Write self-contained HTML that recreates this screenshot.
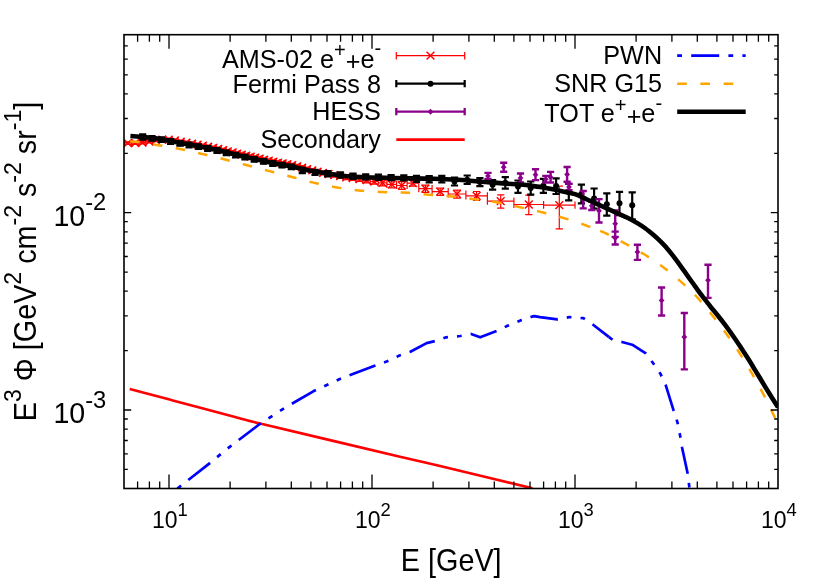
<!DOCTYPE html><html><head><meta charset="utf-8"><style>html,body{margin:0;padding:0;background:#fff}svg{display:block;will-change:transform}text{font-family:"Liberation Sans",sans-serif;fill:#000}</style></head><body>
<svg width="830" height="581" viewBox="0 0 830 581">
<clipPath id="c"><rect x="124.0" y="34.7" width="654.0" height="453.8"/></clipPath>
<g clip-path="url(#c)" fill="none" stroke-linejoin="round">
<g stroke="#ff0000" stroke-width="1.2"><path d="M116.2,143.3H124.0M116.2,139.7v7.2M124.0,139.7v7.2M120.1,142.0V144.6M116.5,142.0h7.2M116.5,144.6h7.2M124.0,143.1H131.6M124.0,139.5v7.2M131.6,139.5v7.2M127.8,141.8V144.5M124.2,141.8h7.2M124.2,144.5h7.2M131.6,143.0H138.8M131.6,139.4v7.2M138.8,139.4v7.2M135.2,141.6V144.3M131.6,141.6h7.2M131.6,144.3h7.2M138.8,142.6H145.9M138.8,139.0v7.2M145.9,139.0v7.2M142.4,141.2V144.0M138.8,141.2h7.2M138.8,144.0h7.2M145.9,141.5H152.6M145.9,137.9v7.2M152.6,137.9v7.2M149.2,140.1V142.9M145.6,140.1h7.2M145.6,142.9h7.2M152.6,140.2H159.3M152.6,136.6v7.2M159.3,136.6v7.2M155.9,138.8V141.6M152.3,138.8h7.2M152.3,141.6h7.2M159.3,139.6H165.6M159.3,136.0v7.2M165.6,136.0v7.2M162.4,138.1V141.1M158.8,138.1h7.2M158.8,141.1h7.2M165.6,139.7H171.8M165.6,136.1v7.2M171.8,136.1v7.2M168.7,138.2V141.2M165.1,138.2h7.2M165.1,141.2h7.2M171.8,140.5H177.8M171.8,136.9v7.2M177.8,136.9v7.2M174.8,138.9V142.0M171.2,138.9h7.2M171.2,142.0h7.2M177.8,141.6H183.6M177.8,138.0v7.2M183.6,138.0v7.2M180.7,140.1V143.1M177.1,140.1h7.2M177.1,143.1h7.2M183.6,142.6H189.3M183.6,139.0v7.2M189.3,139.0v7.2M186.5,141.1V144.2M182.9,141.1h7.2M182.9,144.2h7.2M189.3,143.6H194.9M189.3,140.0v7.2M194.9,140.0v7.2M192.1,142.0V145.2M188.5,142.0h7.2M188.5,145.2h7.2M194.9,144.6H200.3M194.9,141.0v7.2M200.3,141.0v7.2M197.6,143.0V146.2M194.0,143.0h7.2M194.0,146.2h7.2M200.3,145.7H205.6M200.3,142.1v7.2M205.6,142.1v7.2M202.9,144.1V147.3M199.3,144.1h7.2M199.3,147.3h7.2M205.6,146.7H210.7M205.6,143.1v7.2M210.7,143.1v7.2M208.2,145.1V148.4M204.6,145.1h7.2M204.6,148.4h7.2M210.7,147.8H215.8M210.7,144.2v7.2M215.8,144.2v7.2M213.3,146.1V149.4M209.7,146.1h7.2M209.7,149.4h7.2M215.8,148.9H220.8M215.8,145.3v7.2M220.8,145.3v7.2M218.3,147.2V150.5M214.7,147.2h7.2M214.7,150.5h7.2M220.8,150.1H225.6M220.8,146.5v7.2M225.6,146.5v7.2M223.2,148.4V151.8M219.6,148.4h7.2M219.6,151.8h7.2M225.6,151.3H230.3M225.6,147.7v7.2M230.3,147.7v7.2M227.9,149.6V153.0M224.3,149.6h7.2M224.3,153.0h7.2M230.3,152.4H235.0M230.3,148.8v7.2M235.0,148.8v7.2M232.7,150.7V154.2M229.1,150.7h7.2M229.1,154.2h7.2M235.0,153.6H239.5M235.0,150.0v7.2M239.5,150.0v7.2M237.3,151.8V155.3M233.7,151.8h7.2M233.7,155.3h7.2M239.5,154.6H244.1M239.5,151.0v7.2M244.1,151.0v7.2M241.8,152.8V156.4M238.2,152.8h7.2M238.2,156.4h7.2M244.1,155.6H248.5M244.1,152.0v7.2M248.5,152.0v7.2M246.3,153.8V157.4M242.7,153.8h7.2M242.7,157.4h7.2M248.5,156.6H252.9M248.5,153.0v7.2M252.9,153.0v7.2M250.7,154.8V158.4M247.1,154.8h7.2M247.1,158.4h7.2M252.9,157.7H257.4M252.9,154.1v7.2M257.4,154.1v7.2M255.2,155.8V159.5M251.6,155.8h7.2M251.6,159.5h7.2M257.4,158.7H261.9M257.4,155.1v7.2M261.9,155.1v7.2M259.7,156.8V160.5M256.1,156.8h7.2M256.1,160.5h7.2M261.9,159.7H266.5M261.9,156.1v7.2M266.5,156.1v7.2M264.2,157.8V161.5M260.6,157.8h7.2M260.6,161.5h7.2M266.5,160.7H271.1M266.5,157.1v7.2M271.1,157.1v7.2M268.8,158.8V162.5M265.2,158.8h7.2M265.2,162.5h7.2M271.1,161.7H275.7M271.1,158.1v7.2M275.7,158.1v7.2M273.4,159.9V163.6M269.8,159.9h7.2M269.8,163.6h7.2M275.7,162.6H280.4M275.7,159.0v7.2M280.4,159.0v7.2M278.0,160.7V164.4M274.4,160.7h7.2M274.4,164.4h7.2M280.4,163.4H285.1M280.4,159.8v7.2M285.1,159.8v7.2M282.7,161.5V165.3M279.1,161.5h7.2M279.1,165.3h7.2M285.1,164.2H289.9M285.1,160.6v7.2M289.9,160.6v7.2M287.5,162.3V166.1M283.9,162.3h7.2M283.9,166.1h7.2M289.9,165.2H294.7M289.9,161.6v7.2M294.7,161.6v7.2M292.3,163.3V167.1M288.7,163.3h7.2M288.7,167.1h7.2M294.7,166.3H299.7M294.7,162.7v7.2M299.7,162.7v7.2M297.2,164.4V168.3M293.6,164.4h7.2M293.6,168.3h7.2M299.7,167.6H304.7M299.7,164.0v7.2M304.7,164.0v7.2M302.2,165.7V169.6M298.6,165.7h7.2M298.6,169.6h7.2M304.7,169.2H309.7M304.7,165.6v7.2M309.7,165.6v7.2M307.2,167.2V171.1M303.6,167.2h7.2M303.6,171.1h7.2M309.7,170.4H314.9M309.7,166.8v7.2M314.9,166.8v7.2M312.3,168.5V172.4M308.7,168.5h7.2M308.7,172.4h7.2M314.9,171.6H320.3M314.9,168.0v7.2M320.3,168.0v7.2M317.6,169.6V173.5M314.0,169.6h7.2M314.0,173.5h7.2M320.3,172.8H325.7M320.3,169.2v7.2M325.7,169.2v7.2M323.0,170.8V174.8M319.4,170.8h7.2M319.4,174.8h7.2M325.7,174.0H331.3M325.7,170.4v7.2M331.3,170.4v7.2M328.5,172.0V176.0M324.9,172.0h7.2M324.9,176.0h7.2M331.3,175.1H337.1M331.3,171.5v7.2M337.1,171.5v7.2M334.2,173.0V177.2M330.6,173.0h7.2M330.6,177.2h7.2M337.1,176.2H343.1M337.1,172.6v7.2M343.1,172.6v7.2M340.1,174.1V178.3M336.5,174.1h7.2M336.5,178.3h7.2M343.1,177.4H349.4M343.1,173.8v7.2M349.4,173.8v7.2M346.3,175.2V179.6M342.7,175.2h7.2M342.7,179.6h7.2M349.4,178.2H356.0M349.4,174.6v7.2M356.0,174.6v7.2M352.7,175.9V180.5M349.1,175.9h7.2M349.1,180.5h7.2M356.0,179.1H362.9M356.0,175.5v7.2M362.9,175.5v7.2M359.5,176.7V181.5M355.9,176.7h7.2M355.9,181.5h7.2M362.9,180.2H370.3M362.9,176.6v7.2M370.3,176.6v7.2M366.6,177.6V182.8M363.0,177.6h7.2M363.0,182.8h7.2M370.3,181.5H378.2M370.3,177.9v7.2M378.2,177.9v7.2M374.3,178.7V184.2M370.7,178.7h7.2M370.7,184.2h7.2M378.2,182.8H386.9M378.2,179.2v7.2M386.9,179.2v7.2M382.6,179.8V185.8M379.0,179.8h7.2M379.0,185.8h7.2M386.9,184.3H396.6M386.9,180.7v7.2M396.6,180.7v7.2M391.8,180.9V187.8M388.2,180.9h7.2M388.2,187.8h7.2M396.6,185.5H407.1M396.6,181.9v7.2M407.1,181.9v7.2M401.8,181.6V189.4M398.2,181.6h7.2M398.2,189.4h7.2M407.1,183.1H418.8M407.1,179.5v7.2M418.8,179.5v7.2M412.9,180.1V186.2M409.3,180.1h7.2M409.3,186.2h7.2M418.8,188.6H432.1M418.8,185.0v7.2M432.1,185.0v7.2M425.4,185.1V192.3M421.8,185.1h7.2M421.8,192.3h7.2M432.1,191.6H448.2M432.1,188.0v7.2M448.2,188.0v7.2M440.2,188.1V195.3M436.6,188.1h7.2M436.6,195.3h7.2M448.2,194.0H465.9M448.2,190.4v7.2M465.9,190.4v7.2M457.0,190.2V198.1M453.4,190.2h7.2M453.4,198.1h7.2M465.9,195.8H487.4M465.9,192.2v7.2M487.4,192.2v7.2M476.6,191.5V200.5M473.0,191.5h7.2M473.0,200.5h7.2M487.4,201.1H513.9M487.4,197.5v7.2M513.9,197.5v7.2M500.7,194.8V208.1M497.1,194.8h7.2M497.1,208.1h7.2M513.9,204.5H543.6M513.9,200.9v7.2M543.6,200.9v7.2M528.8,195.2V214.6M525.2,195.2h7.2M525.2,214.6h7.2M543.6,205.1H575.0M543.6,201.5v7.2M575.0,201.5v7.2M559.3,186.1V228.8M555.7,186.1h7.2M555.7,228.8h7.2"/><path stroke-width="1.45" d="M116.2,139.4l7.8,7.8M116.2,147.2l7.8,-7.8M123.9,139.2l7.8,7.8M123.9,147.0l7.8,-7.8M131.3,139.1l7.8,7.8M131.3,146.9l7.8,-7.8M138.5,138.7l7.8,7.8M138.5,146.5l7.8,-7.8M145.3,137.6l7.8,7.8M145.3,145.4l7.8,-7.8M152.0,136.3l7.8,7.8M152.0,144.1l7.8,-7.8M158.5,135.7l7.8,7.8M158.5,143.5l7.8,-7.8M164.8,135.8l7.8,7.8M164.8,143.6l7.8,-7.8M170.9,136.6l7.8,7.8M170.9,144.4l7.8,-7.8M176.8,137.7l7.8,7.8M176.8,145.5l7.8,-7.8M182.6,138.7l7.8,7.8M182.6,146.5l7.8,-7.8M188.2,139.7l7.8,7.8M188.2,147.5l7.8,-7.8M193.7,140.7l7.8,7.8M193.7,148.5l7.8,-7.8M199.0,141.8l7.8,7.8M199.0,149.6l7.8,-7.8M204.3,142.8l7.8,7.8M204.3,150.6l7.8,-7.8M209.4,143.9l7.8,7.8M209.4,151.7l7.8,-7.8M214.4,145.0l7.8,7.8M214.4,152.8l7.8,-7.8M219.3,146.2l7.8,7.8M219.3,154.0l7.8,-7.8M224.0,147.4l7.8,7.8M224.0,155.2l7.8,-7.8M228.8,148.5l7.8,7.8M228.8,156.3l7.8,-7.8M233.4,149.7l7.8,7.8M233.4,157.5l7.8,-7.8M237.9,150.7l7.8,7.8M237.9,158.5l7.8,-7.8M242.4,151.7l7.8,7.8M242.4,159.5l7.8,-7.8M246.8,152.7l7.8,7.8M246.8,160.5l7.8,-7.8M251.3,153.8l7.8,7.8M251.3,161.6l7.8,-7.8M255.8,154.8l7.8,7.8M255.8,162.6l7.8,-7.8M260.3,155.8l7.8,7.8M260.3,163.6l7.8,-7.8M264.9,156.8l7.8,7.8M264.9,164.6l7.8,-7.8M269.5,157.8l7.8,7.8M269.5,165.6l7.8,-7.8M274.1,158.7l7.8,7.8M274.1,166.5l7.8,-7.8M278.8,159.5l7.8,7.8M278.8,167.3l7.8,-7.8M283.6,160.3l7.8,7.8M283.6,168.1l7.8,-7.8M288.4,161.3l7.8,7.8M288.4,169.1l7.8,-7.8M293.3,162.4l7.8,7.8M293.3,170.2l7.8,-7.8M298.3,163.7l7.8,7.8M298.3,171.5l7.8,-7.8M303.3,165.3l7.8,7.8M303.3,173.1l7.8,-7.8M308.4,166.5l7.8,7.8M308.4,174.3l7.8,-7.8M313.7,167.7l7.8,7.8M313.7,175.5l7.8,-7.8M319.1,168.9l7.8,7.8M319.1,176.7l7.8,-7.8M324.6,170.1l7.8,7.8M324.6,177.9l7.8,-7.8M330.3,171.2l7.8,7.8M330.3,179.0l7.8,-7.8M336.2,172.3l7.8,7.8M336.2,180.1l7.8,-7.8M342.4,173.5l7.8,7.8M342.4,181.3l7.8,-7.8M348.8,174.3l7.8,7.8M348.8,182.1l7.8,-7.8M355.6,175.2l7.8,7.8M355.6,183.0l7.8,-7.8M362.7,176.3l7.8,7.8M362.7,184.1l7.8,-7.8M370.4,177.6l7.8,7.8M370.4,185.4l7.8,-7.8M378.7,178.9l7.8,7.8M378.7,186.7l7.8,-7.8M387.9,180.4l7.8,7.8M387.9,188.2l7.8,-7.8M397.9,181.6l7.8,7.8M397.9,189.4l7.8,-7.8M409.0,179.2l7.8,7.8M409.0,187.0l7.8,-7.8M421.5,184.7l7.8,7.8M421.5,192.5l7.8,-7.8M436.3,187.7l7.8,7.8M436.3,195.5l7.8,-7.8M453.1,190.1l7.8,7.8M453.1,197.9l7.8,-7.8M472.7,191.9l7.8,7.8M472.7,199.7l7.8,-7.8M496.8,197.2l7.8,7.8M496.8,205.0l7.8,-7.8M524.9,200.6l7.8,7.8M524.9,208.4l7.8,-7.8M555.4,201.2l7.8,7.8M555.4,209.0l7.8,-7.8"/></g>
<path stroke="#000" stroke-width="2.2" d="M632.2,192.4V219.4M628.6,192.4h7.2M628.6,219.4h7.2M619.5,191.9V215.2M615.9,191.9h7.2M615.9,215.2h7.2M606.8,193.4V215.6M603.2,193.4h7.2M603.2,215.6h7.2M594.1,188.5V208.6M590.5,188.5h7.2M590.5,208.6h7.2M581.4,184.7V203.4M577.8,184.7h7.2M577.8,203.4h7.2M568.8,184.0V200.3M565.1,184.0h7.2M565.1,200.3h7.2M556.1,178.3V194.0M552.5,178.3h7.2M552.5,194.0h7.2M543.4,178.9V192.8M539.8,178.9h7.2M539.8,192.8h7.2M530.7,181.5V194.6M527.1,181.5h7.2M527.1,194.6h7.2M518.0,180.5V192.8M514.4,180.5h7.2M514.4,192.8h7.2M505.3,177.1V188.6M501.7,177.1h7.2M501.7,188.6h7.2M492.6,180.0V189.7M489.0,180.0h7.2M489.0,189.7h7.2M479.9,178.0V186.1M476.3,178.0h7.2M476.3,186.1h7.2M467.2,175.5V184.0M463.6,175.5h7.2M463.6,184.0h7.2M454.5,177.5V185.5M450.9,177.5h7.2M450.9,185.5h7.2M441.9,175.9V182.5M438.2,175.9h7.2M438.2,182.5h7.2M429.2,176.0V182.3M425.6,176.0h7.2M425.6,182.3h7.2M416.5,175.8V182.0M412.9,175.8h7.2M412.9,182.0h7.2M403.8,175.3V180.5M400.2,175.3h7.2M400.2,180.5h7.2M391.1,175.0V180.2M387.5,175.0h7.2M387.5,180.2h7.2M378.4,174.7V179.9M374.8,174.7h7.2M374.8,179.9h7.2M365.7,174.3V179.5M362.1,174.3h7.2M362.1,179.5h7.2M353.0,173.6V178.8M349.4,173.6h7.2M349.4,178.8h7.2M340.3,172.4V177.6M336.7,172.4h7.2M336.7,177.6h7.2M327.6,171.1V176.3M324.0,171.1h7.2M324.0,176.3h7.2M315.0,169.8V175.0M311.4,169.8h7.2M311.4,175.0h7.2M302.3,167.9V173.1M298.7,167.9h7.2M298.7,173.1h7.2M142.7,134.4V139.7M139.1,134.4h7.2M139.1,139.7h7.2M152.0,136.1V140.7M148.4,136.1h7.2M148.4,140.7h7.2M161.3,137.3V141.9M157.7,137.3h7.2M157.7,141.9h7.2M170.6,139.2V143.8M167.0,139.2h7.2M167.0,143.8h7.2M179.9,141.1V145.7M176.3,141.1h7.2M176.3,145.7h7.2M189.1,142.7V147.3M185.5,142.7h7.2M185.5,147.3h7.2M198.4,144.4V149.0M194.8,144.4h7.2M194.8,149.0h7.2M207.7,146.2V150.8M204.1,146.2h7.2M204.1,150.8h7.2M217.0,148.2V152.8M213.4,148.2h7.2M213.4,152.8h7.2M226.3,150.5V155.1M222.7,150.5h7.2M222.7,155.1h7.2M235.6,152.8V157.4M232.0,152.8h7.2M232.0,157.4h7.2M244.9,154.9V159.5M241.3,154.9h7.2M241.3,159.5h7.2M254.2,157.0V161.6M250.6,157.0h7.2M250.6,161.6h7.2M263.5,159.1V163.7M259.9,159.1h7.2M259.9,163.7h7.2M272.8,161.2V165.8M269.2,161.2h7.2M269.2,165.8h7.2M282.0,162.9V167.5M278.4,162.9h7.2M278.4,167.5h7.2M291.3,164.6V169.2M287.7,164.6h7.2M287.7,169.2h7.2"/>
<g fill="#000" stroke="none"><circle cx="632.2" cy="205.3" r="3"/><circle cx="619.5" cy="203.3" r="3"/><circle cx="606.8" cy="204.2" r="3"/><circle cx="594.1" cy="198.5" r="3"/><circle cx="581.4" cy="194.0" r="3"/><circle cx="568.8" cy="192.0" r="3"/><circle cx="556.1" cy="186.0" r="3"/><circle cx="543.4" cy="185.8" r="3"/><circle cx="530.7" cy="188.0" r="3"/><circle cx="518.0" cy="186.5" r="3"/><circle cx="505.3" cy="182.8" r="3"/><circle cx="492.6" cy="184.7" r="3"/><circle cx="479.9" cy="182.0" r="3"/><circle cx="467.2" cy="179.8" r="3"/><circle cx="454.5" cy="181.5" r="3"/><circle cx="441.9" cy="179.2" r="3"/><circle cx="429.2" cy="179.0" r="3"/><circle cx="416.5" cy="178.8" r="3"/><circle cx="403.8" cy="177.9" r="3"/><circle cx="391.1" cy="177.6" r="3"/><circle cx="378.4" cy="177.3" r="3"/><circle cx="365.7" cy="176.9" r="3"/><circle cx="353.0" cy="176.2" r="3"/><circle cx="340.3" cy="175.0" r="3"/><circle cx="327.6" cy="173.7" r="3"/><circle cx="315.0" cy="172.4" r="3"/><circle cx="302.3" cy="170.5" r="3"/><circle cx="142.7" cy="137.4" r="3"/><circle cx="152.0" cy="138.4" r="3"/><circle cx="161.3" cy="139.6" r="3"/><circle cx="170.6" cy="141.5" r="3"/><circle cx="179.9" cy="143.4" r="3"/><circle cx="189.1" cy="145.0" r="3"/><circle cx="198.4" cy="146.7" r="3"/><circle cx="207.7" cy="148.5" r="3"/><circle cx="217.0" cy="150.5" r="3"/><circle cx="226.3" cy="152.8" r="3"/><circle cx="235.6" cy="155.1" r="3"/><circle cx="244.9" cy="157.2" r="3"/><circle cx="254.2" cy="159.3" r="3"/><circle cx="263.5" cy="161.4" r="3"/><circle cx="272.8" cy="163.5" r="3"/><circle cx="282.0" cy="165.2" r="3"/><circle cx="291.3" cy="166.9" r="3"/></g>
<path stroke="#8b008b" stroke-width="2.4" d="M488.0,172.9V178.9M484.4,172.9h7.2M484.4,178.9h7.2M503.7,162.7V171.7M500.1,162.7h7.2M500.1,171.7h7.2M520.5,173.5V182.5M516.9,173.5h7.2M516.9,182.5h7.2M535.5,169.3V180.1M531.9,169.3h7.2M531.9,180.1h7.2M545.8,175.9V182.5M542.2,175.9h7.2M542.2,182.5h7.2M550.6,171.9V182.5M547.0,171.9h7.2M547.0,182.5h7.2M567.1,167.0V181.8M563.5,167.0h7.2M563.5,181.8h7.2M569.0,183.8V190.2M565.4,183.8h7.2M565.4,190.2h7.2M583.2,191.0V208.4M579.6,191.0h7.2M579.6,208.4h7.2M591.8,201.6V210.0M588.2,201.6h7.2M588.2,210.0h7.2M599.0,199.1V222.5M595.4,199.1h7.2M595.4,222.5h7.2M615.2,210.4V236.9M611.6,210.4h7.2M611.6,236.9h7.2M615.2,231.6V244.5M611.6,231.6h7.2M611.6,244.5h7.2M637.4,244.7V259.9M633.8,244.7h7.2M633.8,259.9h7.2M661.6,287.5V315.5M658.0,287.5h7.2M658.0,315.5h7.2M684.3,313.0V369.4M680.7,313.0h7.2M680.7,369.4h7.2M708.0,264.8V297.9M704.4,264.8h7.2M704.4,297.9h7.2"/>
<path fill="#8b008b" stroke="none" d="M485.1,175.9l2.9,-2.9l2.9,2.9l-2.9,2.9zM500.8,167.2l2.9,-2.9l2.9,2.9l-2.9,2.9zM517.6,178.0l2.9,-2.9l2.9,2.9l-2.9,2.9zM532.6,174.7l2.9,-2.9l2.9,2.9l-2.9,2.9zM542.9,179.2l2.9,-2.9l2.9,2.9l-2.9,2.9zM547.7,177.2l2.9,-2.9l2.9,2.9l-2.9,2.9zM564.2,174.4l2.9,-2.9l2.9,2.9l-2.9,2.9zM566.1,187.0l2.9,-2.9l2.9,2.9l-2.9,2.9zM580.3,199.7l2.9,-2.9l2.9,2.9l-2.9,2.9zM588.9,205.8l2.9,-2.9l2.9,2.9l-2.9,2.9zM596.1,210.8l2.9,-2.9l2.9,2.9l-2.9,2.9zM612.3,223.7l2.9,-2.9l2.9,2.9l-2.9,2.9zM612.3,238.1l2.9,-2.9l2.9,2.9l-2.9,2.9zM634.5,251.9l2.9,-2.9l2.9,2.9l-2.9,2.9zM658.7,300.4l2.9,-2.9l2.9,2.9l-2.9,2.9zM681.4,337.0l2.9,-2.9l2.9,2.9l-2.9,2.9zM705.1,280.2l2.9,-2.9l2.9,2.9l-2.9,2.9z"/>
<path d="M129.7,389.1C136.9,391.0 155.2,395.8 172.8,400.4C190.4,405.0 220.5,413.1 235.0,417.0C249.5,420.9 232.5,416.9 260.0,423.5C287.5,430.1 370.0,449.6 400.0,456.7C430.0,463.8 417.9,460.8 440.0,466.1C462.1,471.4 517.1,484.6 532.5,488.3" stroke="#ff0000" stroke-width="2.6"/>
<polyline points="177.4,488.5 209.2,463.6 229.4,447.1 259.8,424.0 284.3,408.1 313.3,391.3 339.3,379.2 374.0,366.1 386.5,361.6 399.5,355.5 410.4,351.8 426.6,343.1 435.3,341.0 446.1,337.3 460.2,336.0 471.1,334.0 480.2,337.3 497.1,330.8 507.5,325.8 520.5,320.4 531.8,316.7 534.4,316.2 540.0,317.1 557.3,319.3 569.3,317.1 583.4,318.2 593.1,324.7 608.8,336.9" stroke="#0000ff" stroke-width="2.7" stroke-dasharray="27.7 9.1 4.7 9.1 4.7 9.1" stroke-dashoffset="50.6"/>
<polyline points="608.8,336.9 612.7,339.9 622.0,342.0 632.2,344.7 645.8,353.3 653.2,363.3 660.6,374.1 665.8,385.4 673.4,409.9 677.4,422.2 680.2,436.0 682.1,447.7 687.8,474.2 689.5,488.4" stroke="#0000ff" stroke-width="2.7" stroke-dasharray="27.7 9.1 4.7 9.1 4.7 9.1" stroke-dashoffset="50.6"/>
<polyline points="130.20,141.50 130.58,141.52 131.02,141.53 131.51,141.53 132.06,141.54 132.66,141.55 133.33,141.57 134.06,141.60 134.86,141.64 135.71,141.69 136.64,141.77 137.64,141.87 138.70,142.00 139.85,142.15 141.08,142.33 142.39,142.53 143.77,142.75 145.22,142.98 146.73,143.23 148.29,143.49 149.89,143.76 151.53,144.04 153.20,144.33 154.89,144.61 156.60,144.90 158.35,145.19 160.16,145.49 162.03,145.79 163.94,146.11 165.90,146.43 167.87,146.76 169.87,147.09 171.88,147.44 173.88,147.79 175.88,148.15 177.85,148.52 179.80,148.90 181.73,149.29 183.67,149.69 185.61,150.11 187.54,150.54 189.48,150.97 191.42,151.41 193.35,151.86 195.28,152.31 197.20,152.76 199.11,153.21 201.01,153.66 202.90,154.10 204.78,154.54 206.64,154.98 208.49,155.43 210.34,155.87 212.17,156.32 214.01,156.76 215.84,157.21 217.66,157.66 219.49,158.12 221.32,158.57 223.16,159.04 225.00,159.50 226.85,159.97 228.69,160.44 230.54,160.92 232.39,161.40 234.24,161.89 236.09,162.38 237.94,162.86 239.80,163.35 241.65,163.84 243.50,164.33 245.35,164.82 247.20,165.30 249.06,165.79 250.93,166.27 252.80,166.77 254.69,167.26 256.57,167.75 258.44,168.24 260.31,168.73 262.17,169.22 264.01,169.70 265.83,170.17 267.63,170.64 269.40,171.10 271.13,171.55 272.81,171.98 274.46,172.40 276.09,172.81 277.69,173.22 279.29,173.63 280.90,174.03 282.51,174.44 284.15,174.86 285.82,175.29 287.54,175.74 289.30,176.20 291.11,176.68 292.96,177.19 294.85,177.71 296.76,178.24 298.70,178.78 300.65,179.32 302.61,179.86 304.58,180.40 306.55,180.92 308.51,181.43 310.46,181.93 312.40,182.40 314.32,182.85 316.25,183.30 318.17,183.73 320.10,184.16 322.02,184.58 323.94,184.98 325.87,185.38 327.79,185.76 329.72,186.14 331.64,186.50 333.57,186.86 335.50,187.20 337.43,187.53 339.36,187.86 341.30,188.17 343.23,188.48 345.16,188.77 347.10,189.06 349.04,189.33 350.97,189.59 352.90,189.84 354.84,190.07 356.77,190.29 358.70,190.50 360.63,190.69 362.56,190.86 364.48,191.02 366.41,191.17 368.33,191.30 370.26,191.42 372.18,191.53 374.10,191.63 376.03,191.73 377.95,191.82 379.88,191.91 381.80,192.00 383.72,192.08 385.65,192.13 387.57,192.18 389.50,192.21 391.42,192.24 393.35,192.26 395.28,192.29 397.20,192.32 399.12,192.37 401.05,192.42 402.97,192.50 404.90,192.60 406.82,192.72 408.74,192.87 410.66,193.03 412.58,193.20 414.50,193.39 416.42,193.58 418.34,193.78 420.26,193.97 422.19,194.17 424.12,194.36 426.06,194.53 428.00,194.70 429.95,194.85 431.91,194.99 433.88,195.13 435.86,195.26 437.83,195.38 439.81,195.51 441.79,195.63 443.77,195.77 445.74,195.91 447.70,196.06 449.66,196.22 451.60,196.40 453.53,196.59 455.46,196.80 457.38,197.01 459.29,197.24 461.20,197.47 463.10,197.71 465.00,197.95 466.90,198.20 468.80,198.45 470.70,198.70 472.60,198.95 474.50,199.20 476.40,199.45 478.31,199.69 480.21,199.93 482.11,200.18 484.02,200.42 485.92,200.68 487.82,200.93 489.72,201.20 491.62,201.48 493.51,201.77 495.41,202.08 497.30,202.40 499.19,202.74 501.08,203.10 502.97,203.48 504.86,203.87 506.75,204.27 508.63,204.68 510.51,205.10 512.40,205.52 514.28,205.94 516.15,206.36 518.03,206.78 519.90,207.20 521.77,207.61 523.63,208.02 525.50,208.43 527.36,208.84 529.21,209.26 531.07,209.67 532.92,210.10 534.78,210.52 536.63,210.95 538.49,211.39 540.34,211.84 542.20,212.30 544.06,212.76 545.92,213.23 547.79,213.71 549.66,214.19 551.53,214.68 553.39,215.17 555.26,215.67 557.12,216.18 558.97,216.69 560.82,217.22 562.67,217.76 564.50,218.30 566.34,218.86 568.19,219.43 570.04,220.02 571.90,220.62 573.75,221.23 575.59,221.84 577.42,222.46 579.22,223.08 581.00,223.69 582.74,224.30 584.44,224.91 586.10,225.50 587.70,226.07 589.23,226.62 590.70,227.15 592.14,227.67 593.54,228.19 594.94,228.72 596.33,229.26 597.73,229.81 599.15,230.40 600.20,230.85" stroke="#ffa500" stroke-width="2.5" stroke-dasharray="9.5 13.5"/>
<polyline points="600.20,230.85 600.62,231.02 602.13,231.69 603.70,232.40 605.33,233.17 607.01,233.98 608.73,234.83 610.48,235.71 612.25,236.63 614.04,237.56 615.83,238.51 617.63,239.47 619.43,240.44 621.21,241.40 622.97,242.36 624.70,243.30 626.42,244.23 628.13,245.17 629.84,246.10 631.55,247.04 633.25,247.99 634.94,248.94 636.63,249.89 638.31,250.86 639.97,251.83 641.63,252.81 643.27,253.80 644.90,254.80 646.51,255.81 648.11,256.82 649.69,257.84 651.27,258.86 652.83,259.90 654.38,260.94 655.93,261.99 657.47,263.06 659.00,264.14 660.54,265.24 662.07,266.36 663.60,267.50 665.14,268.66 666.67,269.85 668.21,271.06 669.75,272.28 671.29,273.52 672.81,274.78 674.33,276.04 675.84,277.31 677.33,278.58 678.81,279.86 680.26,281.13 681.70,282.40 683.11,283.66 684.51,284.92 685.89,286.16 687.25,287.41 688.60,288.67 689.93,289.93 691.26,291.21 692.57,292.50 693.89,293.81 695.19,295.14 696.50,296.50 697.80,297.90 699.10,299.33 700.40,300.80 701.69,302.30 702.98,303.82 704.26,305.37 705.54,306.92 706.80,308.49 708.06,310.07 709.31,311.64 710.55,313.21 711.78,314.76 713.00,316.30 714.21,317.82 715.40,319.34 716.58,320.85 717.74,322.35 718.90,323.86 720.06,325.36 721.20,326.87 722.34,328.39 723.48,329.92 724.62,331.46 725.76,333.02 726.90,334.60 728.04,336.20 729.19,337.81 730.33,339.43 731.47,341.06 732.61,342.71 733.74,344.36 734.87,346.02 736.00,347.69 737.11,349.37 738.22,351.04 739.31,352.72 740.40,354.40 741.48,356.09 742.55,357.79 743.61,359.49 744.67,361.21 745.73,362.93 746.77,364.66 747.80,366.38 748.83,368.10 749.84,369.81 750.84,371.52 751.83,373.22 752.80,374.90 753.76,376.57 754.70,378.23 755.63,379.87 756.55,381.51 757.46,383.15 758.36,384.78 759.24,386.41 760.13,388.04 761.00,389.67 761.87,391.31 762.74,392.95 763.60,394.60 764.47,396.29 765.36,398.03 766.26,399.82 767.17,401.62 768.06,403.42 768.94,405.21 769.80,406.97 770.63,408.67 771.43,410.30 772.17,411.85 772.87,413.29 773.50,414.60 774.08,415.81 774.61,416.95 775.11,418.02 775.57,419.01 775.99,419.94 776.37,420.80 776.72,421.59 777.03,422.31 777.32,422.96 777.57,423.54 777.80,424.05 778.00,424.50" stroke="#ffa500" stroke-width="2.5" stroke-dasharray="9.5 13.5"/>
<path d="M130.4,136.0C132.5,136.2 138.4,136.6 143.1,137.0C147.8,137.4 152.8,137.8 158.6,138.7C164.4,139.6 171.4,141.4 177.8,142.6C184.2,143.8 190.7,144.8 197.1,146.0C203.5,147.2 210.0,148.5 216.4,149.9C222.8,151.3 229.3,153.2 235.7,154.7C242.1,156.2 248.5,157.6 254.9,159.1C261.3,160.6 268.5,162.2 274.2,163.4C279.9,164.6 283.6,164.8 289.3,166.0C295.0,167.2 302.2,169.2 308.6,170.5C315.0,171.8 321.4,172.6 327.8,173.5C334.2,174.4 340.7,175.6 347.1,176.2C353.5,176.8 360.0,176.9 366.4,177.2C372.8,177.5 379.3,177.6 385.7,177.8C392.1,178.0 398.5,178.1 404.9,178.2C411.3,178.3 419.3,178.5 424.2,178.6C429.1,178.7 428.4,178.5 434.0,178.7C439.6,178.9 452.0,179.4 458.0,179.7C464.0,180.0 466.0,180.4 470.0,180.7C474.0,181.0 478.0,181.4 482.0,181.7C486.0,182.0 490.0,182.3 494.0,182.6C498.0,182.9 502.0,183.3 506.0,183.6C510.0,183.9 514.0,184.0 518.0,184.3C522.0,184.6 526.0,185.1 530.0,185.6C534.0,186.1 538.0,186.6 542.0,187.3C546.0,188.0 550.5,188.9 554.0,189.6C557.5,190.3 559.5,190.8 563.0,191.6C566.5,192.3 571.0,192.8 575.0,194.1C579.0,195.4 583.0,197.7 587.0,199.5C591.0,201.3 595.1,203.1 599.1,204.9C603.1,206.7 607.1,208.6 611.1,210.4C615.1,212.2 620.1,214.4 623.2,215.8C626.4,217.2 627.6,217.6 630.0,218.9C632.4,220.2 635.2,221.8 637.8,223.4C640.4,225.0 642.9,226.6 645.5,228.5C648.1,230.4 650.7,232.6 653.3,234.8C655.9,237.0 658.4,239.3 661.0,241.9C663.6,244.5 666.2,247.3 668.8,250.4C671.4,253.5 673.9,256.9 676.5,260.4C679.1,263.9 681.7,267.6 684.3,271.2C686.9,274.8 689.4,278.4 692.0,282.0C694.6,285.6 698.0,290.4 699.8,292.8C701.5,295.2 700.8,294.1 702.5,296.3C704.2,298.5 707.5,302.9 710.0,306.0C712.5,309.1 714.9,311.9 717.4,315.0C719.9,318.1 722.4,321.3 724.9,324.6C727.4,327.9 729.9,331.4 732.4,335.0C734.9,338.6 737.4,342.2 739.9,346.0C742.4,349.8 744.9,353.7 747.4,357.6C749.9,361.5 752.3,365.5 754.8,369.6C757.3,373.7 759.8,377.9 762.3,382.0C764.8,386.1 767.2,390.1 769.8,394.3C772.4,398.5 776.6,405.1 778.0,407.3" stroke="#000" stroke-width="4.6"/>
</g>
<g fill="none">
<path stroke="#ff0000" stroke-width="1.2" d="M396.3,55.7H464.7M396.3,51.900000000000006v7.6M464.7,51.900000000000006v7.6"/><path stroke="#ff0000" stroke-width="1.45" d="M426.6,51.800000000000004l7.8,7.8M426.6,59.6l7.8,-7.8"/>
<path stroke="#000" stroke-width="2.2" d="M396.3,83.7H464.7M396.3,80.10000000000001v7.2M464.7,80.10000000000001v7.2"/><circle cx="430.5" cy="83.7" r="3" fill="#000"/>
<path stroke="#8b008b" stroke-width="2.3" d="M396.3,111.7H464.7M396.3,108.10000000000001v7.2M464.7,108.10000000000001v7.2"/><path fill="#8b008b" d="M427.5,111.7l3,-3l3,3l-3,3z"/>
<path stroke="#ff0000" stroke-width="2.6" d="M396.3,139.6H464.7"/>
<path stroke="#0000ff" stroke-width="2.7" stroke-dasharray="4.8 9.2 28 9.2 4.8 9.2" d="M677.2,55.7H745.7"/>
<path stroke="#ffa500" stroke-width="2.5" stroke-dasharray="9.6 13.6" d="M677.2,83.7H745.7"/>
<path stroke="#000" stroke-width="4.6" d="M677.2,111.7H745.7"/>
</g>
<g font-size="25.2" text-anchor="end">
<text transform="translate(381.3,67.7) scale(1,1.045)">AMS-02 e<tspan font-size="20.2" dy="-9.9">+</tspan><tspan dy="12.1">+</tspan><tspan dy="-2.2">e</tspan><tspan font-size="20.2" dy="-11.7">-</tspan></text>
<text transform="translate(380.9,92.8) scale(1,1.045)">Fermi Pass 8</text>
<text transform="translate(380.9,120.0) scale(1,1.045)">HESS</text>
<text transform="translate(380.9,148.2) scale(1,1.045)">Secondary</text>
<text transform="translate(662.1,63.9) scale(1,1.045)">PWN</text>
<text transform="translate(662.1,92.1) scale(1,1.045)">SNR G15</text>
<text transform="translate(662.1,122.3) scale(1,1.045)">TOT e<tspan font-size="20.2" dy="-9.9">+</tspan><tspan dy="12.1">+</tspan><tspan dy="-2.2">e</tspan><tspan font-size="20.2" dy="-11.7">-</tspan></text>
</g>
<path fill="none" stroke="#000" stroke-width="1.3" d="M137.6,488.5v-7M137.6,34.7v7M149.4,488.5v-7M149.4,34.7v7M159.7,488.5v-7M159.7,34.7v7M169.0,488.5v-14M169.0,34.7v14M230.1,488.5v-7M230.1,34.7v7M265.9,488.5v-7M265.9,34.7v7M291.3,488.5v-7M291.3,34.7v7M310.9,488.5v-7M310.9,34.7v7M327.0,488.5v-7M327.0,34.7v7M340.6,488.5v-7M340.6,34.7v7M352.4,488.5v-7M352.4,34.7v7M362.7,488.5v-7M362.7,34.7v7M372.0,488.5v-14M372.0,34.7v14M433.1,488.5v-7M433.1,34.7v7M468.9,488.5v-7M468.9,34.7v7M494.3,488.5v-7M494.3,34.7v7M513.9,488.5v-7M513.9,34.7v7M530.0,488.5v-7M530.0,34.7v7M543.6,488.5v-7M543.6,34.7v7M555.4,488.5v-7M555.4,34.7v7M565.7,488.5v-7M565.7,34.7v7M575.0,488.5v-14M575.0,34.7v14M636.1,488.5v-7M636.1,34.7v7M671.9,488.5v-7M671.9,34.7v7M697.3,488.5v-7M697.3,34.7v7M716.9,488.5v-7M716.9,34.7v7M733.0,488.5v-7M733.0,34.7v7M746.6,488.5v-7M746.6,34.7v7M758.4,488.5v-7M758.4,34.7v7M768.7,488.5v-7M768.7,34.7v7M124.0,469.4h3.8M778.0,469.4h-3.8M124.0,453.8h3.8M778.0,453.8h-3.8M124.0,440.5h3.8M778.0,440.5h-3.8M124.0,429.1h3.8M778.0,429.1h-3.8M124.0,419.0h3.8M778.0,419.0h-3.8M124.0,410.0h7.2M778.0,410.0h-7.2M124.0,350.6h3.8M778.0,350.6h-3.8M124.0,315.8h3.8M778.0,315.8h-3.8M124.0,291.2h3.8M778.0,291.2h-3.8M124.0,272.1h3.8M778.0,272.1h-3.8M124.0,256.5h3.8M778.0,256.5h-3.8M124.0,243.2h3.8M778.0,243.2h-3.8M124.0,231.8h3.8M778.0,231.8h-3.8M124.0,221.7h3.8M778.0,221.7h-3.8M124.0,212.7h7.2M778.0,212.7h-7.2M124.0,153.3h3.8M778.0,153.3h-3.8M124.0,118.5h3.8M778.0,118.5h-3.8M124.0,93.9h3.8M778.0,93.9h-3.8M124.0,74.8h3.8M778.0,74.8h-3.8M124.0,59.2h3.8M778.0,59.2h-3.8M124.0,45.9h3.8M778.0,45.9h-3.8"/>
<rect x="124.0" y="34.7" width="654.0" height="453.8" fill="none" stroke="#000" stroke-width="1.6"/>
<text font-size="23.0" x="151.9" y="527.5">10<tspan font-size="18.4" dy="-11.5">1</tspan></text>
<text font-size="23.0" x="354.9" y="527.5">10<tspan font-size="18.4" dy="-11.5">2</tspan></text>
<text font-size="23.0" x="557.9" y="527.5">10<tspan font-size="18.4" dy="-11.5">3</tspan></text>
<text font-size="23.0" x="760.9" y="527.5">10<tspan font-size="18.4" dy="-11.5">4</tspan></text>
<text font-size="28.6" text-anchor="end" x="106.3" y="225.5">10<tspan font-size="23.7" dy="-15.2">-2</tspan></text>
<text font-size="28.6" text-anchor="end" x="106.3" y="422.8">10<tspan font-size="23.7" dy="-15.2">-3</tspan></text>
<text font-size="28.8" text-anchor="middle" transform="translate(451.2,570.9) scale(1,1.06)">E [GeV]</text>
<text font-size="28.8" text-anchor="middle" transform="translate(36.4,261.5) rotate(-90) scale(1,1.06)">E<tspan font-size="23.0" dy="-14.5">3</tspan><tspan dy="14.5"> Φ [GeV</tspan><tspan font-size="23.0" dy="-14.5">2</tspan><tspan dy="14.5"> cm</tspan><tspan font-size="23.0" dy="-14.5">-2</tspan><tspan dy="14.5"> s</tspan><tspan font-size="23.0" dy="-14.5">-2</tspan><tspan dy="14.5"> sr</tspan><tspan font-size="23.0" dy="-14.5">-1</tspan><tspan dy="14.5">]</tspan></text>
</svg></body></html>
